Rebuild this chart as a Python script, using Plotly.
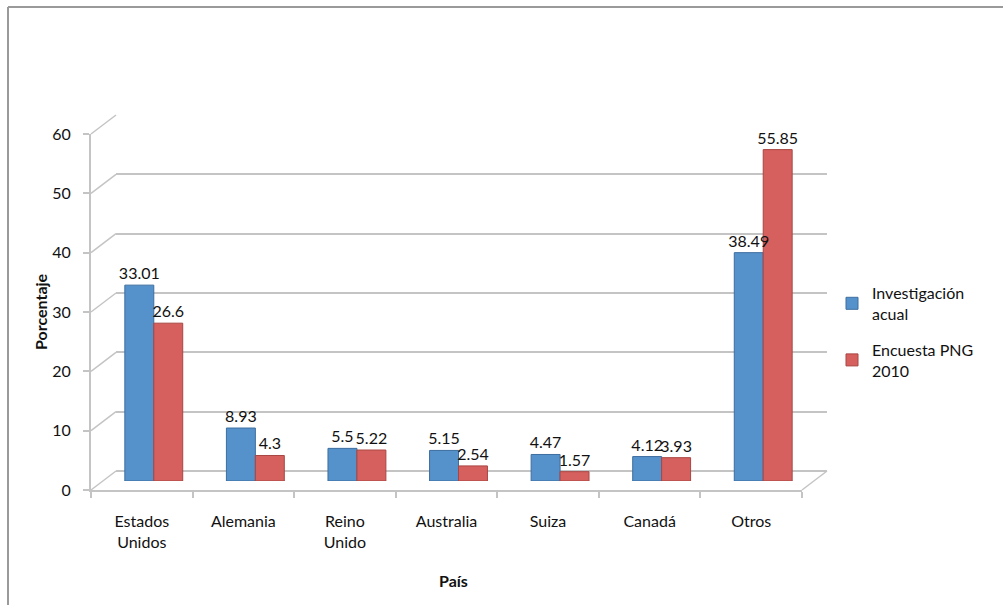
import plotly.graph_objects as go

# ---------------- data ----------------
categories = ["Estados<br>Unidos", "Alemania", "Reino<br>Unido", "Australia", "Suiza", "Canadá", "Otros"]
investigacion_actual = [33.01, 8.93, 5.5, 5.15, 4.47, 4.12, 38.49]
encuesta_png_2010 = [26.6, 4.3, 5.22, 2.54, 1.57, 3.93, 55.85]
series_names = ["Investigación<br>acual", "Encuesta PNG<br>2010"]
y_ticks = [0, 10, 20, 30, 40, 50, 60]

# ---------------- layout geometry (pixels) ----------------
W, H = 1003, 605
FONT = "Lato"
YMAX = 60
FRONT = dict(x0=91, x1=802, y0=490, ytop=134)   # front plane (axes)
BACK = dict(x0=116, x1=827, y0=471, ytop=115)   # back wall (gridlines)
MID = dict(x0=103, x1=814, y0=481, ytop=125)    # bar plane

def px(x):
    return x / W

def py(y):
    return 1 - y / H

def plane_y(plane, v):
    return plane["y0"] - v * (plane["y0"] - plane["ytop"]) / YMAX

GRID = "#c4c4c4"
BLUE = "#5591CB"
BLUE_EDGE = "#3D6E9F"
RED = "#D6605D"
RED_EDGE = "#A84643"

fig = go.Figure()

# invisible trace that makes the back-wall subplot exist
fig.add_trace(go.Scatter(x=[0, 1], y=[None, None], mode="markers", showlegend=False,
                         hoverinfo="skip", xaxis="x", yaxis="y"))

# the bars
for vals, name, grp, col, edge in [
    (investigacion_actual, series_names[0], "a", BLUE, BLUE_EDGE),
    (encuesta_png_2010, series_names[1], "b", RED, RED_EDGE),
]:
    fig.add_trace(go.Bar(
        x=categories, y=vals, name=name, legendgroup=grp,
        marker=dict(color=col, line=dict(color=edge, width=1)),
        xaxis="x2", yaxis="y2",
    ))

# data labels, drawn on an overlaying axis pair so they sit above every bar
for vals in [investigacion_actual, encuesta_png_2010]:
    fig.add_trace(go.Bar(
        x=categories, y=vals, showlegend=False, hoverinfo="skip",
        marker=dict(color="rgba(0,0,0,0)", line=dict(width=0)),
        text=[str(v) for v in vals], textposition="outside", constraintext="none",
        textfont=dict(size=16, color="#111", family=FONT), cliponaxis=False,
        xaxis="x4", yaxis="y4",
    ))

# invisible trace carrying the front category axis
fig.add_trace(go.Scatter(x=categories, y=[None] * len(categories), mode="markers",
                         showlegend=False, hoverinfo="skip", xaxis="x3", yaxis="y3"))

shapes = []
# perspective connectors from front axis ticks to back wall gridlines
for v in y_ticks:
    shapes.append(dict(type="line", xref="paper", yref="paper", layer="below",
                       x0=px(FRONT["x0"]), y0=py(plane_y(FRONT, v)),
                       x1=px(BACK["x0"]), y1=py(plane_y(BACK, v)),
                       line=dict(color=GRID, width=1.5)))
# right floor edge
shapes.append(dict(type="line", xref="paper", yref="paper", layer="below",
                   x0=px(FRONT["x1"]), y0=py(FRONT["y0"]),
                   x1=px(BACK["x1"]), y1=py(BACK["y0"]),
                   line=dict(color=GRID, width=1.5)))
# outer chart border (left and top)
shapes.append(dict(type="line", xref="paper", yref="paper",
                   x0=px(8), y0=py(7), x1=px(8), y1=0,
                   line=dict(color="#9a9a9a", width=2)))
shapes.append(dict(type="line", xref="paper", yref="paper",
                   x0=px(8), y0=py(7), x1=1, y1=py(7),
                   line=dict(color="#9a9a9a", width=2)))

ncat = len(categories)
fig.update_layout(
    width=W, height=H,
    margin=dict(l=0, r=0, t=0, b=0, pad=0, autoexpand=False),
    paper_bgcolor="white", plot_bgcolor="rgba(0,0,0,0)",
    font=dict(family=FONT, size=16, color="#111"),
    barmode="group", bargap=0.43, bargroupgap=0.0,
    showlegend=True,
    legend=dict(x=px(832), y=py(276), xanchor="left", yanchor="top",
                bgcolor="rgba(0,0,0,0)", font=dict(size=16, family=FONT),
                tracegroupgap=12),
    # back wall
    xaxis=dict(domain=[px(BACK["x0"]), px(BACK["x1"])], range=[0, 1],
               showgrid=False, showticklabels=False, zeroline=False, showline=False),
    yaxis=dict(domain=[py(BACK["y0"]), py(BACK["ytop"])], range=[0, YMAX],
               tickvals=y_ticks, showgrid=True, gridcolor=GRID, gridwidth=1.5,
               zeroline=True, zerolinecolor=GRID, zerolinewidth=1.5,
               showticklabels=False, showline=False),
    # bars
    xaxis2=dict(domain=[px(MID["x0"]), px(MID["x1"])], type="category",
                range=[-0.5, ncat - 0.5], anchor="y2",
                showgrid=False, showticklabels=False, zeroline=False, showline=False),
    yaxis2=dict(domain=[py(MID["y0"]), py(MID["ytop"])], range=[0, YMAX], anchor="x2",
                showgrid=False, showticklabels=False, zeroline=False, showline=False),
    # labels overlay
    xaxis4=dict(overlaying="x2", type="category", range=[-0.5, ncat - 0.5], anchor="y4",
                showgrid=False, showticklabels=False, zeroline=False, showline=False),
    yaxis4=dict(overlaying="y2", range=[0, YMAX], anchor="x4",
                showgrid=False, showticklabels=False, zeroline=False, showline=False),
    # front axes
    xaxis3=dict(domain=[px(FRONT["x0"]), px(FRONT["x1"])], type="category",
                range=[-0.5, ncat - 0.5], anchor="y3",
                showgrid=False, zeroline=False, showline=True, linecolor=GRID, linewidth=2,
                ticks="outside", tickson="boundaries", ticklen=6, tickcolor=GRID, tickwidth=1.5,
                ticklabelstandoff=16,
                tickfont=dict(size=16, family=FONT, color="#111")),
    yaxis3=dict(domain=[py(FRONT["y0"]), py(FRONT["ytop"])], range=[0, YMAX], anchor="x3",
                tickvals=y_ticks, showgrid=False, zeroline=False, showline=True,
                linecolor=GRID, linewidth=2, ticks="outside", ticklen=6, tickcolor=GRID,
                tickwidth=1.5, ticklabelstandoff=9,
                tickfont=dict(size=16, family=FONT, color="#111")),
    shapes=shapes,
    annotations=[
        dict(text="<b>Porcentaje</b>", x=px(40), y=py(312), xref="paper", yref="paper",
             xanchor="center", yanchor="middle",
             textangle=-90, showarrow=False, font=dict(size=16, family=FONT)),
        dict(text="<b>País</b>", x=px(453), y=py(580), xref="paper", yref="paper",
             xanchor="center", yanchor="middle",
             showarrow=False, font=dict(size=16, family=FONT)),
    ],
)

fig.write_html("out.html")
